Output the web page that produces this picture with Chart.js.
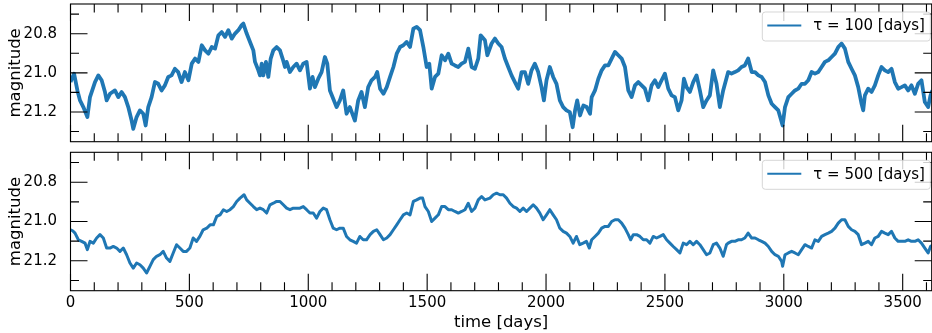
<!DOCTYPE html>
<html>
<head>
<meta charset="utf-8">
<script src="https://cdn.jsdelivr.net/npm/chart.js"></script>
<style>
  body { margin: 0; background: #fff; }
  #wrap { position: relative; width: 932px; height: 333px; }
  canvas { position: absolute; left: 0; }
</style>
</head>
<body>
<div id="wrap">
  <canvas id="topChart" width="932" height="145" style="top:0"></canvas>
  <canvas id="bottomChart" width="932" height="188" style="top:145px"></canvas>
</div>
<script>
// light curves (time in days, magnitude)
const daysTop = [
  0, 15, 29, 40, 54, 71, 82, 103, 117, 131,
  145, 152, 166, 187, 201, 215, 229, 243, 257, 264,
  278, 292, 306, 316, 327, 341, 355, 369, 383, 397,
  411, 425, 439, 453, 467, 481, 496, 510, 524, 538,
  552, 566, 580, 594, 608, 622, 636, 650, 664, 678,
  692, 706, 720, 727, 741, 755, 769, 776, 790, 797,
  804, 811, 822, 832, 842, 853, 867, 881, 892, 902,
  909, 923, 937, 951, 965, 979, 993, 1007, 1018, 1028,
  1042, 1056, 1070, 1080, 1091, 1105, 1119, 1133, 1147, 1161,
  1175, 1196, 1210, 1224, 1238, 1252, 1266, 1281, 1290, 1302,
  1316, 1330, 1344, 1358, 1372, 1386, 1400, 1414, 1428, 1442,
  1456, 1470, 1484, 1498, 1509, 1519, 1533, 1547, 1561, 1575,
  1589, 1603, 1617, 1631, 1645, 1659, 1673, 1687, 1701, 1715,
  1725, 1743, 1753, 1771, 1785, 1799, 1813, 1827, 1841, 1855,
  1869, 1883, 1897, 1911, 1925, 1939, 1953, 1967, 1981, 1991,
  2002, 2016, 2030, 2044, 2058, 2072, 2086, 2100, 2112, 2122,
  2131, 2143, 2157, 2171, 2185, 2192, 2206, 2220, 2234, 2248,
  2262, 2276, 2290, 2304, 2318, 2332, 2346, 2360, 2374, 2388,
  2402, 2416, 2430, 2444, 2458, 2472, 2486, 2500, 2514, 2528,
  2542, 2556, 2570, 2580, 2591, 2605, 2619, 2633, 2647, 2661,
  2675, 2689, 2703, 2717, 2731, 2745, 2766, 2780, 2794, 2808,
  2822, 2836, 2850, 2865, 2879, 2893, 2907, 2921, 2935, 2949,
  2963, 2977, 2995, 3005, 3019, 3033, 3047, 3061, 3075, 3089,
  3103, 3117, 3131, 3145, 3159, 3173, 3187, 3201, 3215, 3229,
  3243, 3257, 3271, 3285, 3299, 3313, 3327, 3334, 3341, 3355,
  3369, 3383, 3397, 3411, 3425, 3439, 3453, 3467, 3481, 3495,
  3509, 3523, 3537, 3551, 3565, 3579, 3593, 3607, 3617, 3625
];
const magTop = [
  21.047, 21.004, 21.09, 21.141, 21.175, 21.226, 21.124, 21.047, 21.013, 21.038,
  21.098, 21.141, 21.107, 21.09, 21.124, 21.098, 21.124, 21.175, 21.244, 21.286,
  21.226, 21.192, 21.209, 21.269, 21.175, 21.124, 21.047, 21.056, 21.09, 21.064,
  21.021, 21.013, 20.979, 20.996, 21.047, 20.996, 21.038, 20.953, 20.927, 20.944,
  20.859, 20.885, 20.902, 20.868, 20.876, 20.808, 20.791, 20.816, 20.782, 20.825,
  20.799, 20.782, 20.756, 20.748, 20.799, 20.842, 20.885, 20.944, 20.987, 21.013,
  20.953, 21.013, 20.944, 21.021, 20.927, 20.885, 20.868, 20.885, 20.927, 20.97,
  20.944, 20.996, 20.97, 20.953, 20.987, 20.953, 20.944, 21.081, 21.021, 21.073,
  21.03, 20.996, 20.919, 20.953, 21.09, 21.132, 21.175, 21.141, 21.09, 21.209,
  21.175, 21.244, 21.141, 21.098, 21.175, 21.073, 21.038, 21.021, 20.996, 21.081,
  21.107, 21.073, 21.021, 20.97, 20.902, 20.868, 20.859, 20.842, 20.868, 20.774,
  20.765, 20.782, 20.868, 20.97, 20.953, 21.081, 21.021, 21.004, 20.91, 20.936,
  20.902, 20.953, 20.962, 20.97, 20.953, 20.944, 20.876, 20.97, 20.979, 20.927,
  20.808, 20.833, 20.91, 20.85, 20.825, 20.85, 20.868, 20.927, 20.97, 21.013,
  21.047, 21.081, 20.996, 20.996, 21.056, 20.987, 20.953, 20.996, 21.073, 21.141,
  21.038, 20.97, 21.021, 21.056, 21.141, 21.175, 21.192, 21.201, 21.278, 21.192,
  21.141, 21.218, 21.167, 21.175, 21.209, 21.124, 21.09, 21.03, 20.987, 20.962,
  20.962, 20.927, 20.893, 20.91, 20.927, 20.97, 21.09, 21.124, 21.064, 21.047,
  21.064, 21.081, 21.141, 21.064, 21.038, 21.073, 21.038, 21.004, 21.081, 21.115,
  21.124, 21.192, 21.141, 21.03, 21.073, 21.098, 21.047, 21.013, 21.09, 21.175,
  21.141, 21.115, 20.987, 21.056, 21.175, 21.09, 20.996, 21.004, 20.996, 20.987,
  20.97, 20.962, 20.927, 20.996, 20.996, 21.013, 21.021, 21.047, 21.115, 21.158,
  21.175, 21.192, 21.269, 21.175, 21.124, 21.107, 21.09, 21.081, 21.056, 21.056,
  21.038, 20.996, 21.004, 20.996, 20.97, 20.944, 20.936, 20.919, 20.902, 20.868,
  20.85, 20.876, 20.944, 20.979, 21.013, 21.073, 21.158, 21.192, 21.115, 21.081,
  21.098, 21.064, 21.013, 20.97, 20.987, 20.996, 20.979, 21.047, 21.081, 21.073,
  21.064, 21.09, 21.064, 21.107, 21.056, 21.038, 21.149, 21.175, 21.115, 21.09
];

const daysBottom = [
  0, 9, 19, 33, 47, 61, 71, 82, 96, 110,
  124, 138, 152, 166, 180, 194, 208, 222, 236, 250,
  264, 278, 292, 306, 320, 334, 348, 362, 376, 390,
  404, 418, 432, 446, 460, 474, 488, 502, 516, 530,
  544, 558, 573, 587, 601, 615, 629, 643, 657, 671,
  685, 699, 713, 730, 741, 755, 769, 783, 797, 811,
  825, 839, 853, 867, 881, 895, 909, 923, 937, 951,
  965, 979, 993, 1007, 1021, 1035, 1049, 1063, 1077, 1091,
  1105, 1119, 1133, 1147, 1161, 1175, 1189, 1203, 1217, 1231,
  1245, 1260, 1274, 1288, 1302, 1316, 1330, 1344, 1358, 1372,
  1386, 1400, 1414, 1428, 1442, 1456, 1470, 1481, 1491, 1505,
  1519, 1533, 1547, 1561, 1575, 1589, 1603, 1617, 1631, 1645,
  1659, 1673, 1687, 1701, 1715, 1729, 1743, 1764, 1778, 1792,
  1806, 1820, 1834, 1848, 1862, 1876, 1890, 1904, 1918, 1932,
  1946, 1960, 1974, 1988, 2002, 2016, 2030, 2044, 2058, 2072,
  2086, 2100, 2114, 2128, 2142, 2156, 2170, 2182, 2192, 2206,
  2220, 2234, 2248, 2262, 2276, 2290, 2304, 2318, 2332, 2346,
  2356, 2367, 2381, 2395, 2409, 2423, 2437, 2451, 2465, 2479,
  2493, 2507, 2521, 2535, 2549, 2563, 2577, 2591, 2605, 2619,
  2633, 2647, 2661, 2675, 2689, 2703, 2717, 2731, 2745, 2759,
  2766, 2780, 2794, 2808, 2822, 2836, 2850, 2865, 2879, 2893,
  2907, 2921, 2935, 2949, 2963, 2977, 2991, 2995, 3005, 3019,
  3033, 3047, 3061, 3075, 3089, 3103, 3117, 3131, 3145, 3159,
  3173, 3187, 3201, 3215, 3229, 3243, 3257, 3271, 3285, 3299,
  3313, 3327, 3341, 3355, 3369, 3383, 3397, 3411, 3425, 3439,
  3453, 3467, 3481, 3495, 3509, 3523, 3537, 3551, 3565, 3579,
  3593, 3607, 3617, 3625
];
const magBottom = [
  21.042, 21.047, 21.059, 21.093, 21.101, 21.11, 21.143, 21.101, 21.11, 21.084,
  21.067, 21.084, 21.135, 21.135, 21.127, 21.135, 21.152, 21.135, 21.169, 21.211,
  21.237, 21.211, 21.22, 21.237, 21.262, 21.228, 21.194, 21.177, 21.169, 21.152,
  21.186, 21.203, 21.16, 21.118, 21.135, 21.152, 21.152, 21.135, 21.084, 21.101,
  21.076, 21.042, 21.034, 21.017, 21.017, 20.974, 20.966, 20.94, 20.949, 20.94,
  20.924, 20.898, 20.881, 20.864, 20.89, 20.907, 20.924, 20.94, 20.932, 20.94,
  20.957, 20.915, 20.907, 20.898, 20.898, 20.915, 20.932, 20.94, 20.932, 20.932,
  20.932, 20.924, 20.94, 20.957, 20.957, 20.983, 20.949, 20.932, 20.94, 20.991,
  21.034, 21.042, 21.034, 21.034, 21.076, 21.093, 21.101, 21.11, 21.076, 21.093,
  21.093, 21.067, 21.05, 21.042, 21.067, 21.093, 21.084, 21.067, 21.042, 21.017,
  20.991, 20.966, 20.957, 20.966, 20.898, 20.89, 20.881, 20.881, 20.924, 20.949,
  21.0, 20.983, 20.966, 20.924, 20.924, 20.94, 20.94, 20.949, 20.957, 20.949,
  20.94, 20.907, 20.949, 20.932, 20.89, 20.873, 20.89, 20.881, 20.864, 20.856,
  20.864, 20.864, 20.881, 20.907, 20.924, 20.932, 20.949, 20.932, 20.949, 20.932,
  20.915, 20.932, 20.957, 20.991, 20.966, 20.94, 20.966, 20.991, 21.034, 21.05,
  21.059, 21.076, 21.11, 21.076, 21.118, 21.11, 21.101, 21.135, 21.093, 21.076,
  21.059, 21.034, 21.025, 21.025, 21.0, 20.991, 20.991, 21.008, 21.034, 21.067,
  21.093, 21.067, 21.067, 21.076, 21.093, 21.093, 21.11, 21.076, 21.084, 21.076,
  21.067, 21.093, 21.11, 21.127, 21.143, 21.16, 21.11, 21.118, 21.101, 21.118,
  21.101, 21.118, 21.143, 21.169, 21.16, 21.118, 21.11, 21.135, 21.177, 21.118,
  21.11, 21.101, 21.101, 21.093, 21.093, 21.084, 21.059, 21.084, 21.084, 21.093,
  21.101, 21.11, 21.127, 21.152, 21.169, 21.177, 21.203, 21.228, 21.169, 21.16,
  21.152, 21.16, 21.169, 21.143, 21.118, 21.127, 21.135, 21.093, 21.101, 21.076,
  21.067, 21.059, 21.05, 21.034, 21.008, 20.991, 20.991, 21.025, 21.042, 21.05,
  21.067, 21.118, 21.11, 21.101, 21.118, 21.084, 21.076, 21.05, 21.059, 21.067,
  21.05, 21.084, 21.101, 21.101, 21.101, 21.093, 21.101, 21.101, 21.093, 21.11,
  21.135, 21.16, 21.127, 21.12
];

const seriesLabels = ['\u03c4 = 100 [days]', '\u03c4 = 500 [days]'];

const dayTicks = [0, 500, 1000, 1500, 2000, 2500, 3000, 3500];
const dayMinor = [];
for (let d = 100; d <= 3600; d += 100) if (d % 500) dayMinor.push(d);
const magTicks = [20.8, 21.0, 21.2];
const magMinor = [20.7, 20.9, 21.1, 21.3];

const BLUE = '#1f77b4';
const FONT = 'DejaVu Sans';

// inward ticks on all four sides + box, then a matplotlib style legend
const frameTicks = {
  id: 'frameTicks',
  afterDatasetsDraw(chart) {
    const { ctx, chartArea: a, scales: { x, y } } = chart;
    ctx.save();
    ctx.strokeStyle = '#000';
    ctx.lineWidth = 1.1;
    ctx.beginPath();
    const vtick = (v, len) => {
      const px = x.getPixelForValue(v);
      ctx.moveTo(px, a.bottom); ctx.lineTo(px, a.bottom - len);
      ctx.moveTo(px, a.top); ctx.lineTo(px, a.top + len);
    };
    const htick = (v, len) => {
      const py = y.getPixelForValue(v);
      ctx.moveTo(a.left, py); ctx.lineTo(a.left + len, py);
      ctx.moveTo(a.right, py); ctx.lineTo(a.right - len, py);
    };
    dayTicks.forEach(v => vtick(v, 17));
    dayMinor.forEach(v => vtick(v, 8.5));
    magTicks.forEach(v => htick(v, 17));
    magMinor.forEach(v => htick(v, 8.5));
    ctx.stroke();
    ctx.strokeRect(a.left, a.top, a.right - a.left, a.bottom - a.top);
    ctx.restore();
  },
  afterDraw(chart) {
    const { ctx, chartArea: a } = chart;
    const ds = chart.data.datasets[0];
    const w = 168, h = 29;
    const bx = a.right - w - 1.4, by = a.top + 8;
    ctx.save();
    ctx.beginPath();
    ctx.roundRect(bx, by, w, h, 3);
    ctx.fillStyle = 'rgba(255,255,255,0.8)';
    ctx.fill();
    ctx.strokeStyle = 'rgba(204,204,204,0.8)';
    ctx.lineWidth = 1;
    ctx.stroke();
    ctx.beginPath();
    ctx.strokeStyle = ds.borderColor;
    ctx.lineWidth = 2;
    ctx.moveTo(bx + 5, by + 13.5);
    ctx.lineTo(bx + 39, by + 13.5);
    ctx.stroke();
    ctx.fillStyle = '#000';
    ctx.font = '15px "' + FONT + '"';
    ctx.textBaseline = 'middle';
    ctx.fillText(ds.label, bx + 51, by + 14.5);
    ctx.restore();
  }
};

function makeChart(id, days, mags, label, lineW, withXLabels) {
  const xScale = {
    type: 'linear',
    min: 0,
    max: 3622,
    display: withXLabels,
    grid: { display: false, drawTicks: false },
    border: { display: false },
    afterBuildTicks: s => { s.ticks = dayTicks.map(v => ({ value: v })); },
    ticks: { autoSkip: false, maxRotation: 0, padding: 3.5, color: '#000',
             font: { family: FONT, size: 15 }, callback: v => String(v) },
    title: { display: true, text: 'time [days]', color: '#000',
             font: { family: FONT, size: 16.5 }, padding: { top: 0, bottom: 0 } },
    afterFit: s => {
      s.height = withXLabels ? 42.3 : 0;
      s.paddingLeft = 0; s.paddingRight = 0;
    }
  };
  const yScale = {
    type: 'linear',
    reverse: true,
    min: 20.648,
    max: 21.352,
    grid: { display: false, drawTicks: false },
    border: { display: false },
    afterBuildTicks: s => { s.ticks = magTicks.map(v => ({ value: v })); },
    ticks: { padding: 13.5, color: '#000', font: { family: FONT, size: 15 },
             callback: v => v.toFixed(1) },
    title: { display: true, text: 'magnitude', color: '#000',
             font: { family: FONT, size: 16.5 }, padding: { top: 5.6, bottom: 0 } },
    afterFit: s => {
      s.width = 70.5;
      s.paddingTop = 0; s.paddingBottom = 0;
    }
  };
  return new Chart(document.getElementById(id), {
    type: 'line',
    data: {
      datasets: [{
        label: label,
        data: days.map((d, i) => ({ x: d, y: mags[i] })),
        borderColor: BLUE,
        borderWidth: lineW,
        borderJoinStyle: 'round',
        pointRadius: 0,
        tension: 0
      }]
    },
    options: {
      responsive: false,
      animation: false,
      layout: { padding: withXLabels ? { top: 7.3, right: 0.3, bottom: 0, left: 0 }
                                     : { top: 4, right: 0.3, bottom: 3.3, left: 0 } },
      plugins: { legend: { display: false }, tooltip: { enabled: false } },
      scales: { x: xScale, y: yScale }
    },
    plugins: [frameTicks]
  });
}

makeChart('topChart', daysTop, magTop, seriesLabels[0], 3.8, false);
makeChart('bottomChart', daysBottom, magBottom, seriesLabels[1], 3.0, true);
</script>
</body>
</html>
